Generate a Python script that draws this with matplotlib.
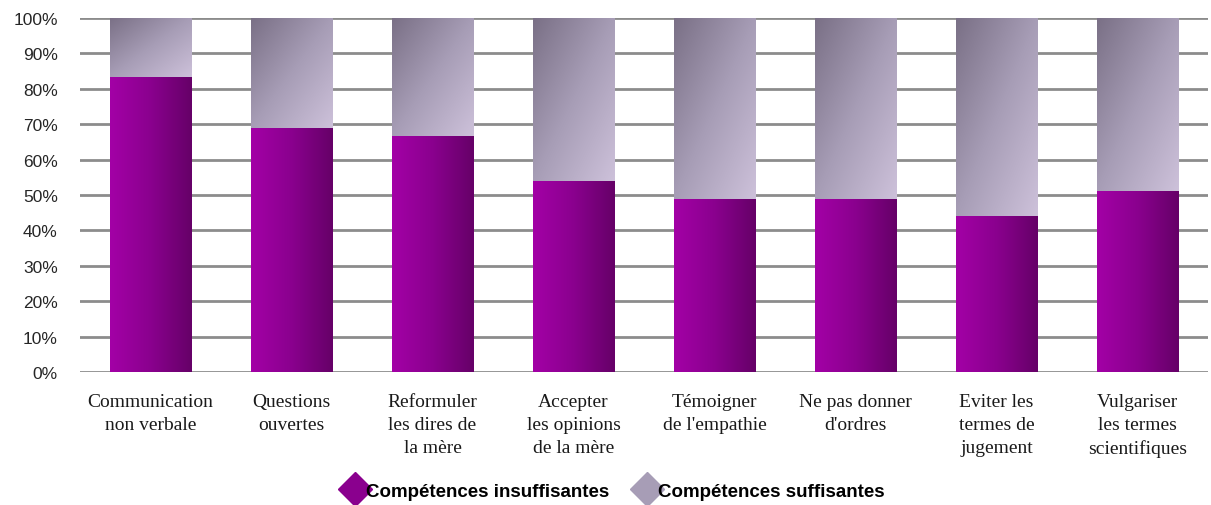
import numpy as np
import matplotlib.pyplot as plt
from matplotlib.colors import LinearSegmentedColormap
from matplotlib.lines import Line2D

categories = ["Communication\nnon verbale", "Questions\nouvertes",
              "Reformuler\nles dires de\nla mère", "Accepter\nles opinions\nde la mère",
              "Témoigner\nde l'empathie", "Ne pas donner\nd'ordres",
              "Eviter les\ntermes de\njugement", "Vulgariser\nles termes\nscientifiques"]
insuffisantes = [83.3, 69.0, 66.8, 54.0, 48.9, 48.9, 44.1, 51.1]
suffisantes = [100 - v for v in insuffisantes]
series_names = ["Compétences insuffisantes", "Compétences suffisantes"]

purple_cmap = LinearSegmentedColormap.from_list("p", ["#a300a6", "#8a008e", "#660068"])
gray_cmap = LinearSegmentedColormap.from_list("g", ["#7a7086", "#a79db6", "#cdc1da"])

fig = plt.figure(figsize=(12.11, 5.06), dpi=100)
ax = fig.add_axes([0.066, 0.2628, 0.9315, 0.6997])

x = np.arange(len(categories))
b1 = ax.bar(x, insuffisantes, width=0.58, color="#8a008e", zorder=2)
b2 = ax.bar(x, suffisantes, width=0.58, bottom=insuffisantes, color="#a79db6", zorder=2)

# gradient horizontal pour les barres violettes
h = np.tile(np.linspace(0, 1, 100), (10, 1))
# gradient diagonal pour les barres grises (sombre en haut a gauche)
gx, gy = np.meshgrid(np.linspace(0, 1, 100), np.linspace(0, 1, 100))
d = (gx + gy) / 2

for bars, grad, cmap in [(b1, h, purple_cmap), (b2, d, gray_cmap)]:
    for r in bars:
        x0, y0 = r.get_x(), r.get_y()
        w, hh = r.get_width(), r.get_height()
        im = ax.imshow(grad, cmap=cmap, extent=[x0, x0 + w, y0, y0 + hh],
                       origin="upper", aspect="auto", zorder=3, interpolation="bilinear")
        im.set_clip_path(r)

ax.set_xlim(-0.5, len(categories) - 0.5)
ax.set_ylim(0, 100)
ax.set_yticks(range(0, 101, 10))
ax.set_yticklabels([f"{v}%" for v in range(0, 101, 10)], fontsize=12.5,
                   family="Liberation Sans", color="#262626")
ax.set_xticks(x)
ax.set_xticklabels(categories, fontsize=14, family="Liberation Serif", color="#1a1a1a",
                   linespacing=1.45)
ax.tick_params(axis="y", length=0, pad=16)
ax.tick_params(axis="x", length=0, pad=15)
ax.yaxis.grid(True, color="#8c8c8c", linewidth=2, zorder=0)
ax.set_axisbelow(True)
for s in ax.spines.values():
    s.set_visible(False)

handles = [Line2D([], [], marker="D", linestyle="", markersize=17, color="#8a008e"),
           Line2D([], [], marker="D", linestyle="", markersize=17, color="#a79db6")]
fig.legend(handles, series_names, loc="center", bbox_to_anchor=(0.507, 0.027), ncol=2,
           frameon=False, prop={"family": "Liberation Sans", "weight": "bold", "size": 13.5},
           handletextpad=0.0, columnspacing=1.4, handlelength=1.2)

fig.savefig("out.png", dpi=100)
